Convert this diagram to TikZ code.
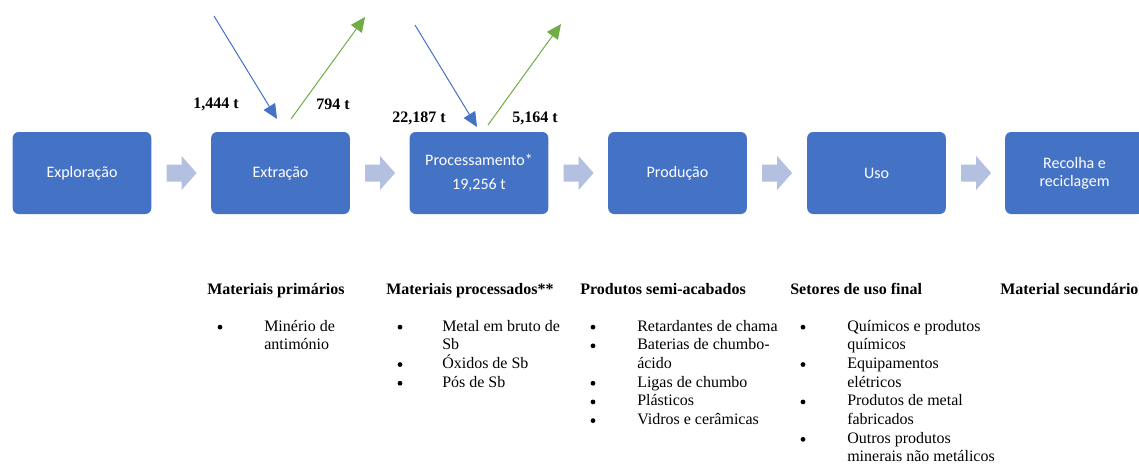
\documentclass[tikz,border=0pt]{standalone}
\usepackage{fontspec}
\setmainfont{Liberation Serif}
\newfontfamily\boxfont{Carlito}
\usetikzlibrary{arrows.meta,calc}
\definecolor{boxblue}{HTML}{4472C4}
\definecolor{flowgreen}{HTML}{70AD47}
\definecolor{chevcol}{HTML}{B4C0E0}
\begin{document}
\begin{tikzpicture}[x=0.75pt,y=-0.75pt,
  stage/.style={fill=boxblue, rounded corners=4.5pt, minimum width=104pt, minimum height=61.5pt,
    text=white, font=\boxfont\fontsize{12}{13.5}\selectfont, align=center, inner sep=0pt},
  flowlbl/.style={font=\bfseries\fontsize{12}{14}\selectfont, inner sep=0pt},
  inflow/.style={draw=boxblue, line width=0.75pt, -{Triangle[length=11pt,width=10pt]}},
  outflow/.style={draw=flowgreen, line width=0.75pt, -{Triangle[length=11pt,width=10pt]}},
  coltitle/.style={font=\bfseries\fontsize{12}{14}\selectfont, anchor=base west, inner sep=0pt},
  bul/.style={circle, fill=black, minimum size=3.6pt, inner sep=0pt, yshift=2.9pt},
  itemtxt/.style={font=\fontsize{12}{14}\selectfont, anchor=base west, inner sep=0pt, align=left}
]
\useasboundingbox (0,0) rectangle (1139,465);
\fill[white] (0,0) rectangle (1139,465);

% stages
\node[stage] (s1) at (82,173) {\raisebox{-2pt}{Exploração}};
\node[stage] (s2) at (280.5,173) {\raisebox{-2pt}{Extração}};
\node[stage] (s3) at (479,173) {Processamento*\\[4pt]19,256 t};
\node[stage] (s4) at (677.5,173) {\raisebox{-2pt}{Produção}};
\node[stage] (s5) at (876.5,173) {\raisebox{-2pt}{Uso}};
\node[stage] (s6) at (1074.5,173) {Recolha e\\reciclagem};

% block arrows between stages
\foreach \a/\b in {s1/s2,s2/s3,s3/s4,s4/s5,s5/s6}{
  \fill[chevcol] ($(\a.east)+(15,-8.5)$) -- ($(\a.east)+(30,-8.5)$) -- ($(\a.east)+(30,-17)$)
    -- ($(\a.east)+(45,0)$) -- ($(\a.east)+(30,17)$) -- ($(\a.east)+(30,8.5)$)
    -- ($(\a.east)+(15,8.5)$) -- cycle;
}

% flows
\coordinate (in1s) at (214,16);
\coordinate (in1e) at (277,119);
\coordinate (out1s) at (291,119);
\coordinate (out1e) at (365,17);
\coordinate (in2s) at (415,25);
\coordinate (in2e) at (477,127);
\coordinate (out2s) at (488,125);
\coordinate (out2e) at (561,24);
\draw[inflow] (in1s) -- (in1e);
\draw[outflow] (out1s) -- (out1e);
\draw[inflow] (in2s) -- (in2e);
\draw[outflow] (out2s) -- (out2e);

\node[flowlbl] (l1) at (216,104) {1,444 t};
\node[flowlbl] (l2) at (333,104) {794 t};
\node[flowlbl] (l3) at (419,118) {22,187 t};
\node[flowlbl] (l4) at (535,118) {5,164 t};

% column titles
\node[coltitle] (t1) at (207,294) {Materiais primários};
\node[coltitle] (t2) at (386,294) {Materiais processados**};
\node[coltitle] (t3) at (580,294) {Produtos semi-acabados};
\node[coltitle] (t4) at (790,294) {Setores de uso final};
\node[coltitle] (t5) at (1000,294) {Material secundário};

% column 1 (base anchor = last line's baseline)
\node[bul] (b11) at (220,331) {};
\node[itemtxt] (i11) at (264,349.7) {Minério de\\antimónio};

% column 2
\node[bul] (b21) at (400,331) {};
\node[itemtxt] (i21) at (442,349.7) {Metal em bruto de\\Sb};
\node[bul] (b22) at (400,368.4) {};
\node[itemtxt] (i22) at (442,368.4) {Óxidos de Sb};
\node[bul] (b23) at (400,387.1) {};
\node[itemtxt] (i23) at (442,387.1) {Pós de Sb};

% column 3
\node[bul] (b31) at (593,331) {};
\node[itemtxt] (i31) at (637,331) {Retardantes de chama};
\node[bul] (b32) at (593,349.7) {};
\node[itemtxt] (i32) at (637,368.4) {Baterias de chumbo-\\ácido};
\node[bul] (b33) at (593,387.1) {};
\node[itemtxt] (i33) at (637,387.1) {Ligas de chumbo};
\node[bul] (b34) at (593,405.8) {};
\node[itemtxt] (i34) at (637,405.8) {Plásticos};
\node[bul] (b35) at (593,424.5) {};
\node[itemtxt] (i35) at (637,424.5) {Vidros e cerâmicas};

% column 4
\node[bul] (b41) at (803,331) {};
\node[itemtxt] (i41) at (847,349.7) {Químicos e produtos\\químicos};
\node[bul] (b42) at (803,368.4) {};
\node[itemtxt] (i42) at (847,387.1) {Equipamentos\\elétricos};
\node[bul] (b43) at (803,405.8) {};
\node[itemtxt] (i43) at (847,424.5) {Produtos de metal\\fabricados};
\node[bul] (b44) at (803,443.2) {};
\node[itemtxt] (i44) at (847,461.9) {Outros produtos\\minerais não metálicos};
\end{tikzpicture}
\end{document}
